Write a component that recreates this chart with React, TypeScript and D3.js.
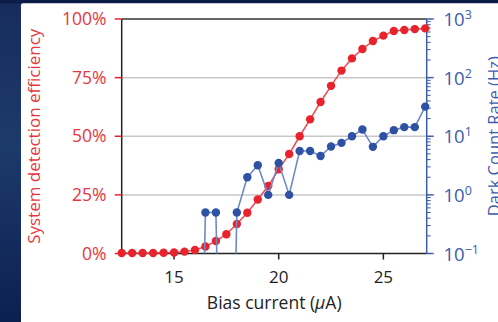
import React, { useEffect, useRef } from 'react';
import * as d3 from 'd3';

// bias current in uA, 0.5 steps
const biasCurrent = [12.5, 13, 13.5, 14, 14.5, 15, 15.5, 16, 16.5, 17, 17.5, 18, 18.5, 19, 19.5, 20,
  20.5, 21, 21.5, 22, 22.5, 23, 23.5, 24, 24.5, 25, 25.5, 26, 26.5, 27];
// system detection efficiency (%)
const sde = [0.2, 0.2, 0.2, 0.2, 0.3, 0.4, 0.8, 1.5, 3, 5.3, 8.2, 12.6, 17.4, 23, 28.8, 35.9,
  42.4, 50, 57.2, 64.6, 71.5, 78, 83.2, 87.2, 90.6, 92.9, 94.9, 95.3, 95.7, 96];
// dark count rate (Hz), 0 = nothing counted
const dcr = [0, 0, 0, 0, 0, 0, 0, 0, 0.5, 0.5, 0, 0.5, 2.0, 3.2, 1.0, 3.5,
  1.0, 5.6, 5.6, 4.6, 6.7, 7.7, 10, 13, 6.6, 10, 12.7, 14.3, 14.3, 32];

const xTicks = [15, 20, 25];
const leftTicks = [0, 25, 50, 75, 100];
const rightExps = [-1, 0, 1, 2, 3];

const W = 498, H = 322;
const RED = '#e8232c';
const BLUE = '#2f51a3';

export default function App() {
  const ref = useRef<SVGSVGElement>(null);

  useEffect(() => {
    const svg = d3.select(ref.current);
    svg.selectAll('*').remove();

    const left = 121.7, right = 426.7, top = 19, bottom = 253.5;
    const x = d3.scaleLinear().domain([12.5, 27.07]).range([left, right]);
    const yL = d3.scaleLinear().domain([0, 100]).range([bottom, top]);
    const yR = d3.scaleLog().domain([0.1, 1000]).range([bottom, top]);

    const defs = svg.append('defs');
    const grad = defs.append('linearGradient').attr('id', 'bg')
      .attr('x1', 0).attr('y1', 0).attr('x2', 0).attr('y2', 1);
    grad.append('stop').attr('offset', '0%').attr('stop-color', '#162c5c');
    grad.append('stop').attr('offset', '45%').attr('stop-color', '#1d3a6c');
    grad.append('stop').attr('offset', '100%').attr('stop-color', '#0c2050');
    defs.append('clipPath').attr('id', 'plot')
      .append('rect').attr('x', left).attr('y', top).attr('width', right - left).attr('height', bottom - top);

    svg.append('rect').attr('width', W).attr('height', H).attr('fill', 'url(#bg)');
    svg.append('rect').attr('x', 0).attr('y', 0).attr('width', W).attr('height', 3.3).attr('fill', '#0b1c47');
    svg.append('rect').attr('x', 21).attr('y', 3.3).attr('width', W - 21 + 5).attr('height', H).attr('rx', 2).attr('fill', '#ffffff');

    const font = "'Open Sans', 'DejaVu Sans', sans-serif";

    // grid
    svg.append('g').selectAll('line').data([25, 50, 75]).enter().append('line')
      .attr('x1', left).attr('x2', right)
      .attr('y1', d => yL(d)).attr('y2', d => yL(d))
      .attr('stroke', '#c8c8c8').attr('stroke-width', 1.5);

    // frame
    svg.append('line').attr('x1', left).attr('x2', right).attr('y1', top).attr('y2', top)
      .attr('stroke', '#333').attr('stroke-width', 1.5);
    svg.append('line').attr('x1', left).attr('x2', left).attr('y1', top).attr('y2', bottom)
      .attr('stroke', '#222').attr('stroke-width', 1.5);
    svg.append('line').attr('x1', left).attr('x2', right).attr('y1', bottom).attr('y2', bottom)
      .attr('stroke', '#222').attr('stroke-width', 1.5);
    svg.append('line').attr('x1', right).attr('x2', right).attr('y1', top).attr('y2', bottom)
      .attr('stroke', '#3d5cab').attr('stroke-width', 1.5);

    // x ticks
    const gx = svg.append('g');
    gx.selectAll('line').data(xTicks).enter().append('line')
      .attr('x1', d => x(d)).attr('x2', d => x(d)).attr('y1', bottom).attr('y2', bottom + 6)
      .attr('stroke', '#222').attr('stroke-width', 1.5);
    gx.selectAll('text').data(xTicks).enter().append('text')
      .attr('x', d => x(d)).attr('y', 283).attr('text-anchor', 'middle')
      .attr('font-family', font).attr('font-size', 17).attr('fill', '#222')
      .text(d => d);
    const xt = svg.append('text').attr('x', (left + right) / 2).attr('y', 309).attr('text-anchor', 'middle')
      .attr('font-family', font).attr('font-size', 17.5).attr('fill', '#222');
    xt.append('tspan').text('Bias current (');
    xt.append('tspan').attr('font-style', 'italic').text('\u03bc');
    xt.append('tspan').text('A)');

    // left axis
    const gl = svg.append('g');
    gl.selectAll('line').data(leftTicks).enter().append('line')
      .attr('x1', left - 7).attr('x2', left).attr('y1', d => yL(d)).attr('y2', d => yL(d))
      .attr('stroke', RED).attr('stroke-width', 1.5);
    gl.selectAll('text').data(leftTicks).enter().append('text')
      .attr('x', 106.5).attr('y', d => yL(d) + 6).attr('text-anchor', 'end')
      .attr('font-family', font).attr('font-size', 17.5).attr('fill', '#e8363e')
      .text(d => d + '%');
    svg.append('text').attr('transform', `translate(39.5,${(top + bottom) / 2}) rotate(-90)`)
      .attr('text-anchor', 'middle').attr('font-family', font).attr('font-size', 17)
      .attr('fill', '#e8363e').text('System detection efficiency');

    // right axis, log
    const gr = svg.append('g');
    const minor: number[] = [];
    rightExps.slice(0, -1).forEach(e => {
      for (let m = 2; m <= 9; m++) minor.push(m * Math.pow(10, e));
    });
    gr.selectAll('line.minor').data(minor).enter().append('line')
      .attr('x1', right).attr('x2', right + 4).attr('y1', d => yR(d)).attr('y2', d => yR(d))
      .attr('stroke', '#3d5cab').attr('stroke-width', 1);
    gr.selectAll('line.major').data(rightExps).enter().append('line')
      .attr('x1', right).attr('x2', right + 7).attr('y1', d => yR(Math.pow(10, d))).attr('y2', d => yR(Math.pow(10, d)))
      .attr('stroke', '#3d5cab').attr('stroke-width', 1.5);
    const lab = gr.selectAll('text').data(rightExps).enter().append('text')
      .attr('x', 443.5).attr('y', d => yR(Math.pow(10, d)) + 7)
      .attr('font-family', font).attr('font-size', 18.5).attr('fill', '#3d5cab');
    lab.append('tspan').text('10');
    lab.append('tspan').attr('dy', -7).attr('font-size', 12.5)
      .text(d => (d < 0 ? '\u2212' + Math.abs(d) : String(d)));
    svg.append('text').attr('transform', `translate(500,${(top + bottom) / 2}) rotate(-90)`)
      .attr('text-anchor', 'middle').attr('font-family', font).attr('font-size', 16.5)
      .attr('fill', '#3d5cab').text('Dark Count Rate (Hz)');

    // red series
    const redPts = biasCurrent.map((b, i) => [b, sde[i]] as [number, number]);
    svg.append('path').datum(redPts)
      .attr('d', d3.line<[number, number]>().x(d => x(d[0])).y(d => yL(d[1])))
      .attr('fill', 'none').attr('stroke', '#ef4a52').attr('stroke-width', 1.5);
    svg.append('g').selectAll('circle').data(redPts).enter().append('circle')
      .attr('cx', d => x(d[0])).attr('cy', d => yL(d[1])).attr('r', 4.2).attr('fill', RED);

    // blue series (zero counts fall off the log axis)
    const bluePts = biasCurrent.map((b, i) => [b, dcr[i]] as [number, number]);
    const yBlue = (v: number) => (v > 0 ? yR(v) : yR(1e-9));
    svg.append('path').datum(bluePts)
      .attr('clip-path', 'url(#plot)')
      .attr('d', d3.line<[number, number]>().x(d => x(d[0])).y(d => yBlue(d[1])))
      .attr('fill', 'none').attr('stroke', '#6d8ac6').attr('stroke-width', 1.6);
    svg.append('g').selectAll('circle').data(bluePts.filter(d => d[1] > 0)).enter().append('circle')
      .attr('cx', d => x(d[0])).attr('cy', d => yR(d[1])).attr('r', 4.2).attr('fill', BLUE);
  }, []);

  return (
    <div style={{ position: 'fixed', left: 0, top: 0 }}>
      <svg ref={ref} width={W} height={H} style={{ display: 'block' }} />
    </div>
  );
}
